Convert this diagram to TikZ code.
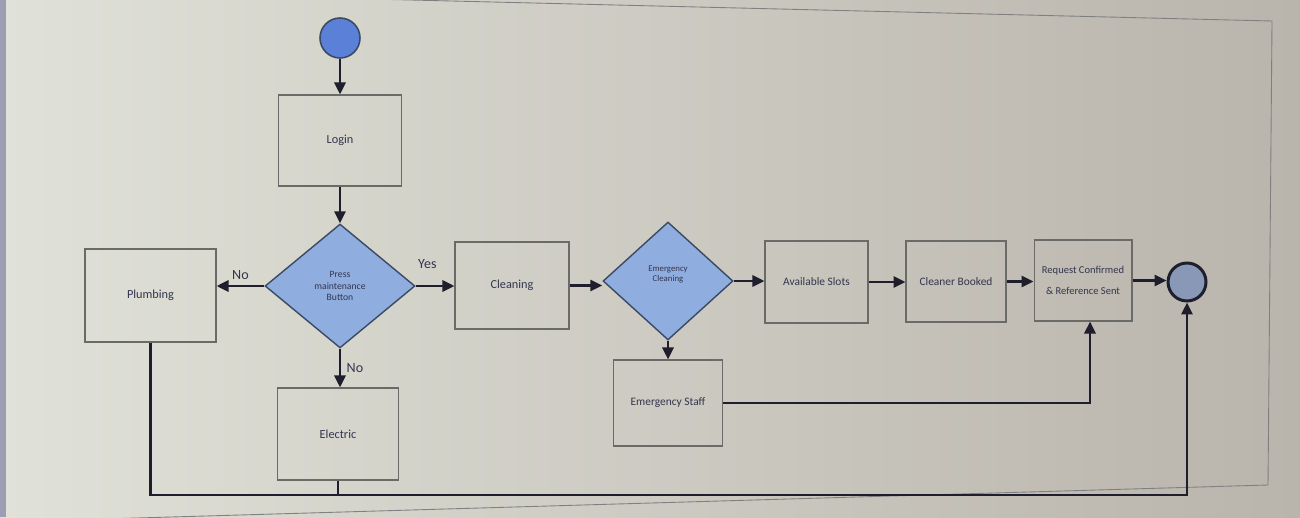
\documentclass[tikz,border=0pt]{standalone}
\usepackage{fontspec}
\setmainfont{Carlito}
\usetikzlibrary{shapes.geometric,arrows.meta,calc}
\definecolor{bgL}{HTML}{E0E1D8}
\definecolor{bgR}{HTML}{B9B4AC}
\definecolor{ink}{HTML}{1E1E2C}
\definecolor{txt}{HTML}{33364E}
\definecolor{boxline}{HTML}{6A6A66}
\definecolor{dfill}{HTML}{8FADDF}
\definecolor{dline}{HTML}{3A4A62}
\definecolor{startfill}{HTML}{5B80D8}
\definecolor{endfill}{HTML}{8898B6}
\definecolor{strip}{HTML}{9C9FB4}
\tikzset{
  x=0.02cm, y=-0.02cm,
  every node/.style={font=\fontsize{7}{8}\selectfont, text=txt, align=center, inner sep=1pt},
  stepbox/.style={draw=boxline, line width=0.6pt, rectangle, inner sep=0pt},
  decision/.style={draw=dline, line width=0.8pt, fill=dfill, shape=diamond, inner sep=0pt, aspect=1.2},
  arr/.style={draw=ink, line width=1.6pt, -{Triangle[length=2.4mm,width=2.2mm]}},
  wire/.style={draw=ink, line width=1.6pt},
  lbl/.style={font=\fontsize{8}{9}\selectfont, text=txt}
}
\begin{document}
\begin{tikzpicture}
\useasboundingbox (0,0) rectangle (1300,517);
% background (photographed screen)
\shade[left color=bgL, right color=bgR] (0,0) rectangle (1300,517);
\fill[strip] (0,0) rectangle (6,517);
% page frame
\draw[color=black!50, line width=0.5pt] (0,-10) -- (1272,21) -- (1268,485) -- (0,522);

% nodes
\node[circle, draw=dline, line width=0.9pt, fill=startfill, minimum size=0.8cm, inner sep=0pt] (start) at (340,38) {};
\node[stepbox, minimum width=2.46cm, minimum height=1.82cm] (login) at (340,140.5) {Login};
\node[decision, minimum width=3.0cm, minimum height=2.48cm, font=\fontsize{5.5}{6.5}\selectfont] (d1) at (340,286) {Press\\maintenance\\Button};
\node[stepbox, minimum width=2.62cm, minimum height=1.86cm] (plumb) at (150.5,295.5) {Plumbing};
\node[stepbox, minimum width=2.28cm, minimum height=1.74cm] (clean) at (512,285.5) {Cleaning};
\node[stepbox, minimum width=2.42cm, minimum height=1.84cm] (elec) at (338,434) {Electric};
\node[decision, minimum width=2.6cm, minimum height=2.36cm, font=\fontsize{5}{5.5}\selectfont] (d2) at (668,281) {Emergency\\Cleaning\\[3pt]};
\node[stepbox, minimum width=2.18cm, minimum height=1.72cm, font=\fontsize{6.5}{7.5}\selectfont] (staff) at (668,403) {Emergency Staff};
\node[stepbox, minimum width=2.06cm, minimum height=1.64cm, font=\fontsize{6.5}{7.5}\selectfont] (slots) at (816.5,282) {Available Slots};
\node[stepbox, minimum width=2.0cm, minimum height=1.62cm, font=\fontsize{6.5}{7.5}\selectfont] (booked) at (956,281.5) {Cleaner Booked};
\node[stepbox, minimum width=1.96cm, minimum height=1.62cm, font=\fontsize{6}{12}\selectfont] (req) at (1083,280.5) {Request Confirmed\\\& Reference Sent};
\node[circle, draw=ink, line width=1.7pt, fill=endfill, minimum size=0.76cm, inner sep=0pt] (end) at (1187,282) {};
\coordinate (bot) at (0,495);

% connectors
\draw[arr] (start.south) -- (login.north);
\draw[arr] (login.south) -- (d1.north);
\draw[arr] (d1.west) -- node[lbl, above=2pt] {No} (d1.west -| plumb.east);
\draw[arr] (d1.east) -- node[lbl, above=8pt, pos=0.3] {Yes} (d1.east -| clean.west);
\draw[arr] (d1.south) -- node[lbl, right=2pt] {No} (d1.south |- elec.north);
\draw[arr] (clean.east) -- (clean.east -| d2.west);
\draw[arr] (d2.south) -- (staff.north);
\draw[arr] (d2.east) -- (d2.east -| slots.west);
\draw[arr] (slots.east) -- (slots.east -| booked.west);
\draw[arr] (booked.east) -- (booked.east -| req.west);
\draw[arr] (req.east) -- (req.east -| end.west);
\draw[arr] (staff.east) -| ($(req.south)+(7,0)$);
\draw[arr] (plumb.south) -- (plumb.south |- bot) -| (end.south);
\draw[wire] (elec.south) -- (elec.south |- bot);
\end{tikzpicture}
\end{document}
